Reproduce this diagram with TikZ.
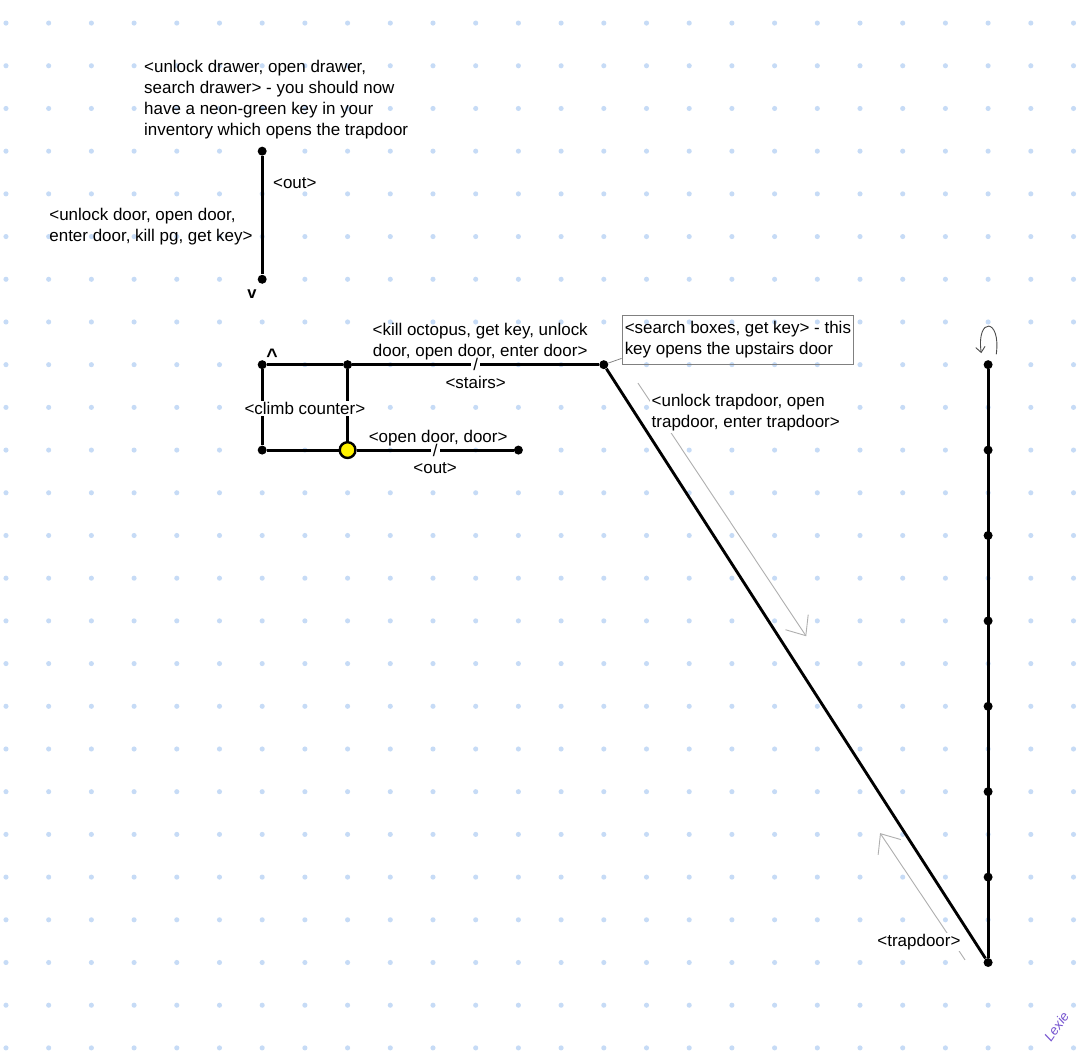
\documentclass[tikz,border=0pt]{standalone}
\usepackage{fontspec}
\setmainfont{Liberation Sans}
\usepackage{xcolor}
\usetikzlibrary{
  arrows.meta,
  positioning
}
\definecolor{griddot}{RGB}{198,219,246}
\definecolor{hintgray}{RGB}{175,175,175}
\definecolor{signpurple}{RGB}{118,84,208}

\begin{document}
\begin{tikzpicture}[
  every node/.style={font=\fontsize{11.3}{14}\selectfont},
  pt/.style={circle, fill=black, inner sep=0pt, minimum size=6pt},
  startpt/.style={circle, draw=black, line width=1.6pt, fill=yellow, inner sep=0pt, minimum size=10.5pt},
  path/.style={line width=1.9pt, black},
  txt/.style={inner sep=0pt, align=left},
  lbl/.style={inner sep=1pt, align=center},
  slash/.style={fill=white, inner sep=1.5pt},
  note/.style={draw=gray, line width=0.6pt, align=left, inner xsep=1.8pt, inner ysep=4pt},
  hint/.style={hintgray, line width=0.6pt, -{Straight Barb[length=3.8mm, width=6.4mm]}},
  loopar/.style={black!70, line width=0.6pt, -{Straight Barb[length=1.3mm, width=2.2mm]}}
]
  \useasboundingbox (-0.14,0.54) rectangle (25.105,-24.19);
  \fill[white] (-0.14,0.54) rectangle (25.105,-24.19);

  % dot grid
  \foreach \i in {0,...,25}
    \foreach \j in {0,...,24}
      \fill[griddot] (\i,-\j) circle (1.7pt);

  % drawer room
  \node[pt] (drawer) at (6,-3) {};
  \node[pt] (hall) at (6,-6) {};
  \node[txt, anchor=west] (drawertext) at (3.23,-1.79)
    {<unlock drawer, open drawer,\\search drawer> - you should now\\have a neon-green key in your\\inventory which opens the trapdoor};
  \draw[path] (drawer) -- node[pos=0.23, right=3pt] (outtop) {<out>} (hall);
  \node[txt, anchor=west] (doortext) at (1.01,-4.76) {<unlock door, open door,\\enter door, kill pg, get key>};
  \node[inner sep=0pt, font=\fontsize{11}{14}\bfseries] (down) at (5.76,-6.34) {v};

  % kitchen
  \node[pt] (ladder) at (6,-8) {};
  \node[pt] (counter) at (8,-8) {};
  \node[pt] (stairs) at (14,-8) {};
  \node[pt] (floor) at (6,-10) {};
  \node[startpt] (kitchen) at (8,-10) {};
  \node[pt] (exit) at (12,-10) {};
  \node[inner sep=0pt, font=\fontsize{13}{14}\bfseries] (up) at (6.23,-7.8) {\textasciicircum};

  \draw[path] (ladder) -- (counter);
  \draw[path] (counter) -- node[slash] (s1) {/}
    node[lbl, above=1pt, xshift=3pt] (octopus) {<kill octopus, get key, unlock\\door, open door, enter door>}
    node[lbl, below=6pt] (stairslbl) {<stairs>} (stairs);
  \draw[path] (ladder) -- (floor) -- (kitchen);
  \draw[path] (counter) -- (kitchen);
  \draw[path] (kitchen) -- node[slash] (s2) {/}
    node[lbl, above=1pt, xshift=2pt] (opendoor) {<open door, door>}
    node[lbl, below=6.5pt] (outbottom) {<out>} (exit);
  \node[lbl, fill=white] (climb) at (7,-9.02) {<climb counter>};

  % boxes note
  \node[note] (boxes) at (17.14,-7.42) {<search boxes, get key> - this\\key opens the upstairs door};
  \draw[gray, line width=0.5pt] (stairs) -- ([yshift=0.15cm]boxes.south west);

  % trapdoor shaft
  \foreach \k in {0,...,7}
    \node[pt] (shaft\k) at (23,-8-2*\k) {};
  \draw[path] (shaft0) -- (shaft7);
  \draw[path] (stairs) -- (shaft7);
  \draw[loopar] ([shift={(0.19,0.24)}]shaft0.center) .. controls +(0.12,0.86) and +(-0.12,0.86) .. ([shift={(-0.16,0.27)}]shaft0.center);

  % direction hints
  \coordinate (dn0) at (14.80,-8.43);
  \coordinate (dn1) at (18.74,-14.36);
  \draw[hint] (dn0) -- (dn1);
  \node[txt, fill=white, inner sep=1pt, anchor=west] (unlocktrap) at (15.08,-9.13)
    {<unlock trapdoor, open\\trapdoor, enter trapdoor>};

  \coordinate (up0) at (22.46,-21.94);
  \coordinate (up1) at (20.47,-18.97);
  \draw[hint] (up0) -- (up1);
  \node[lbl, fill=white] (trapdoor) at (21.38,-21.52) {<trapdoor>};

  % signature
  \node[signpurple, rotate=55, inner sep=0pt, font=\fontsize{9}{9}\itshape] (sign) at (24.6,-23.5) {Lexie};

\end{tikzpicture}
\end{document}
